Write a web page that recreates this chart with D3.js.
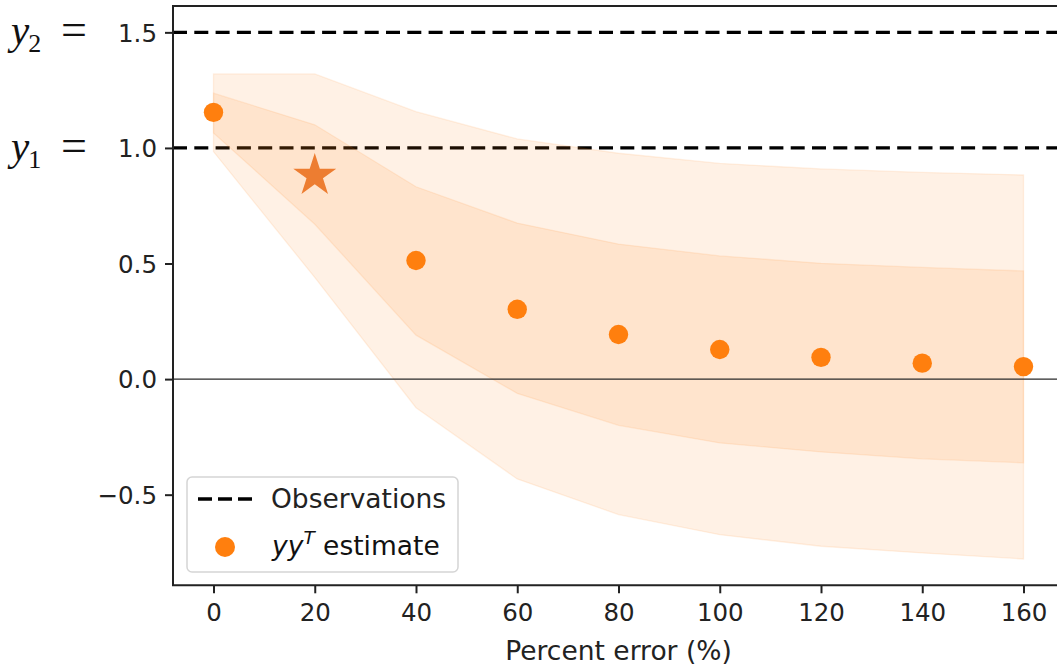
<!DOCTYPE html>
<html>
<head>
<meta charset="utf-8">
<script src="https://cdn.jsdelivr.net/npm/d3@7"></script>
<style>
  html, body { margin: 0; padding: 0; background: #fff; }
  svg { display: block; font-family: "DejaVu Sans", sans-serif; }
</style>
</head>
<body>
<svg id="chart" width="1057" height="666"></svg>
<script>
// percent error on the x axis
const pctError = [0, 20, 40, 60, 80, 100, 120, 140, 160]
// spread of the estimate (outer and inner bands)
const outerHigh = [1.32, 1.32, 1.157, 1.039, 0.977, 0.933, 0.909, 0.894, 0.883]
const outerLow = [0.984, 0.44, -0.124, -0.432, -0.586, -0.673, -0.723, -0.752, -0.778]
const innerHigh = [1.237, 1.10, 0.832, 0.675, 0.584, 0.533, 0.501, 0.483, 0.468]
const innerLow = [1.065, 0.67, 0.19, -0.062, -0.2, -0.276, -0.315, -0.345, -0.362]
// yy^T estimate points
const estX = [0, 40, 60, 80, 100, 120, 140, 160]
const estY = [1.154, 0.513, 0.302, 0.193, 0.128, 0.094, 0.069, 0.054]
// highlighted point
const starX = 20
const starY = 0.88
// observations
const obsValues = [1.0, 1.5]
const obsLabels = ['1', '2']
const xTicks = [0, 20, 40, 60, 80, 100, 120, 140, 160]
const yTicks = [-0.5, 0.0, 0.5, 1.0, 1.5]

const orange = '#ff7f0e'
const svg = d3.select('#chart')

// plot box; right spine sits just outside the picture
const box = {left: 173, right: 1064, top: 6, bottom: 585.3}
const x = d3.scaleLinear().domain([-8, 168]).range([box.left, box.right])
const y = d3.scaleLinear().domain([-0.892, 1.614]).range([box.bottom, box.top])

// observation lines (drawn under the bands)
svg.append('g').selectAll('line')
  .data(obsValues)
  .enter().append('line')
  .attr('x1', box.left).attr('x2', box.right)
  .attr('y1', d => y(d)).attr('y2', d => y(d))
  .attr('stroke', '#000')
  .attr('stroke-width', 3.3)
  .attr('stroke-dasharray', '14,7.3')

// bands
const rows = pctError.map((p, i) => ({p, oh: outerHigh[i], ol: outerLow[i], ih: innerHigh[i], il: innerLow[i]}))
const outerArea = d3.area().x(d => x(d.p)).y0(d => y(d.ol)).y1(d => y(d.oh))
const innerArea = d3.area().x(d => x(d.p)).y0(d => y(d.il)).y1(d => y(d.ih))
;[outerArea, innerArea].forEach(a => {
  svg.append('path')
    .datum(rows)
    .attr('d', a)
    .attr('fill', orange)
    .attr('fill-opacity', 0.11)
    .attr('stroke', orange)
    .attr('stroke-opacity', 0.11)
    .attr('stroke-width', 1.3)
})

// zero line
svg.append('line')
  .attr('x1', box.left).attr('x2', box.right)
  .attr('y1', y(0)).attr('y2', y(0))
  .attr('stroke', '#2a2a2a')
  .attr('stroke-width', 1.4)

// estimate points
svg.append('g').selectAll('circle')
  .data(estX)
  .enter().append('circle')
  .attr('cx', d => x(d))
  .attr('cy', (d, i) => y(estY[i]))
  .attr('r', 9.7)
  .attr('fill', orange)

// star
svg.append('path')
  .attr('d', d3.symbol().type(d3.symbolStar).size(573)())
  .attr('transform', `translate(${x(starX)},${y(starY)})`)
  .attr('fill', '#ed7d31')

// axes
const xAxis = d3.axisBottom(x).tickValues(xTicks).tickSize(8).tickPadding(10).tickFormat(d3.format('d'))
const yAxis = d3.axisLeft(y).tickValues(yTicks).tickSize(8).tickPadding(8)
  .tickFormat(d => (d < 0 ? '\u2212' : '') + Math.abs(d).toFixed(1))

const gx = svg.append('g').attr('transform', `translate(0,${box.bottom})`).call(xAxis)
const gy = svg.append('g').attr('transform', `translate(${box.left},0)`).call(yAxis)
;[gx, gy].forEach(g => {
  g.select('.domain').remove()
  g.selectAll('line').attr('stroke', '#222').attr('stroke-width', 2)
  g.selectAll('text').attr('fill', '#222').style('font-size', '24.5px').style('font-family', '"DejaVu Sans", sans-serif')
})
gy.selectAll('text').attr('dy', '0.36em')

// spines
svg.append('path')
  .attr('d', `M${box.right},${box.top}H${box.left}V${box.bottom}H${box.right}`)
  .attr('fill', 'none')
  .attr('stroke', '#222')
  .attr('stroke-width', 2)

// x label
svg.append('text')
  .attr('x', (box.left + box.right) / 2)
  .attr('y', 660)
  .attr('text-anchor', 'middle')
  .style('font-size', '26.5px')
  .attr('fill', '#222')
  .text('Percent error (%)')

// y1 / y2 labels on the left
const obsLab = svg.append('g').selectAll('text')
  .data(obsValues)
  .enter().append('text')
  .attr('x', 11)
  .attr('y', d => y(d) + 12)
  .style('font-family', '"Liberation Serif", serif')
  .style('font-size', '41px')
  .attr('fill', '#111')
obsLab.append('tspan').style('font-style', 'italic').text('y')
obsLab.append('tspan').attr('dx', -1).attr('dy', 8).style('font-size', '26px').text((d, i) => obsLabels[i])
obsLab.append('tspan').attr('dy', -7).attr('x', 61).style('font-size', '46px').text('=')

// legend
const lg = svg.append('g')
lg.append('rect')
  .attr('x', 187).attr('y', 477).attr('width', 271).attr('height', 95)
  .attr('rx', 5)
  .attr('fill', '#fff').attr('fill-opacity', 0.8)
  .attr('stroke', '#d5d5d5').attr('stroke-width', 1.5)
lg.append('line')
  .attr('x1', 198).attr('x2', 252).attr('y1', 499).attr('y2', 499)
  .attr('stroke', '#000').attr('stroke-width', 3.3)
  .attr('stroke-dasharray', '14,6')
lg.append('text')
  .attr('x', 271).attr('y', 508)
  .style('font-size', '26.5px').attr('fill', '#222')
  .text('Observations')
lg.append('circle')
  .attr('cx', 225).attr('cy', 547).attr('r', 10).attr('fill', orange)
const t2 = lg.append('text')
  .attr('x', 272).attr('y', 555)
  .style('font-size', '26.5px').attr('fill', '#111')
t2.append('tspan').style('font-style', 'italic').text('yy')
t2.append('tspan').attr('dy', -11).style('font-size', '18.5px').style('font-style', 'italic').text('T')
t2.append('tspan').attr('dy', 11).text(' estimate')
</script>
</body>
</html>
